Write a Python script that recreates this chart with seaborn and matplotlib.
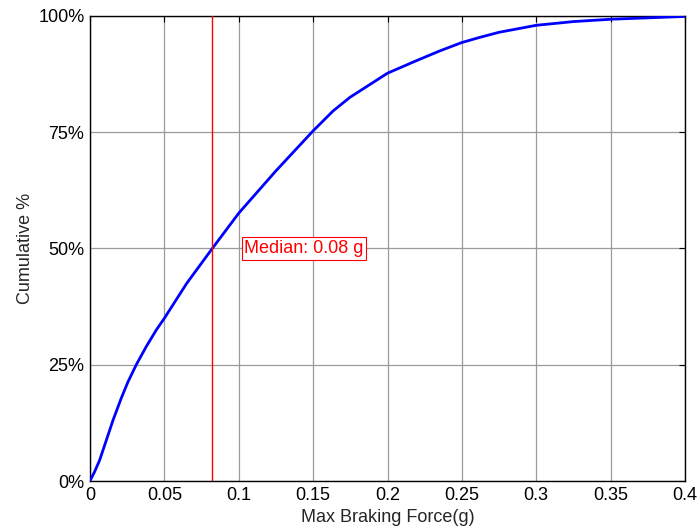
import matplotlib
matplotlib.use("Agg")
import matplotlib.pyplot as plt
import seaborn as sns
import pandas as pd

# Data
force_g = [0, 0.0009, 0.0031, 0.0065, 0.011, 0.0155, 0.021, 0.0255, 0.0311, 0.0378,
           0.0446, 0.05, 0.065, 0.0822, 0.1, 0.125, 0.15, 0.1635, 0.1747, 0.2,
           0.2195, 0.2352, 0.25, 0.262, 0.275, 0.3, 0.325, 0.35, 0.375, 0.4]
cumulative_pct = [0, 0.6, 2.0, 4.5, 8.8, 13.1, 17.8, 21.3, 25.0, 28.9,
                  32.5, 35.0, 42.5, 50.0, 57.6, 66.7, 75.3, 79.6, 82.5, 87.7,
                  90.4, 92.5, 94.3, 95.4, 96.5, 98.0, 98.8, 99.3, 99.6, 99.9]
median_g = 0.0822
median_label = "Median: 0.08 g"
x_ticks = [0, 0.05, 0.1, 0.15, 0.2, 0.25, 0.3, 0.35, 0.4]
x_tick_labels = ["0", "0.05", "0.1", "0.15", "0.2", "0.25", "0.3", "0.35", "0.4"]
y_ticks = [0, 25, 50, 75, 100]
y_tick_labels = ["0%", "25%", "50%", "75%", "100%"]

df = pd.DataFrame({"force": force_g, "cum": cumulative_pct})

sns.set_style("white")
plt.rcParams["font.family"] = ["Liberation Sans", "DejaVu Sans"]

fig = plt.figure(figsize=(6.99, 5.31), dpi=100)
ax = fig.add_axes([90 / 699, 1 - 481 / 531, (685 - 90) / 699, (481 - 16) / 531])

sns.lineplot(data=df, x="force", y="cum", ax=ax, color="#0000ff", linewidth=2.0, zorder=3)
ax.axvline(median_g, color="#ff0000", linewidth=1.0, zorder=4)
ax.annotate(median_label, xy=(0.1, 50), xytext=(4, 0), textcoords="offset points",
            color="#ff0000", fontsize=13, ha="left", va="center",
            bbox=dict(boxstyle="square,pad=0.15", facecolor="white", edgecolor="#ff0000", linewidth=0.8),
            zorder=5)

ax.set_xlim(0, 0.4)
ax.set_ylim(0, 100)
ax.set_xticks(x_ticks)
ax.set_xticklabels(x_tick_labels)
ax.set_yticks(y_ticks)
ax.set_yticklabels(y_tick_labels)
ax.grid(True, color="#9a9a9a", linewidth=0.9, linestyle="-")
ax.set_axisbelow(True)
ax.tick_params(direction="in", length=4, width=0.8, top=True, right=True,
               labelsize=13, colors="black", pad=4)
for s in ax.spines.values():
    s.set_color("black")
    s.set_linewidth(1.0)
    s.set_visible(True)
ax.set_xlabel("Max Braking Force(g)", fontsize=13, labelpad=4)
ax.set_ylabel("Cumulative %", fontsize=13, labelpad=3)

fig.savefig("out.png", dpi=100, facecolor="white")
